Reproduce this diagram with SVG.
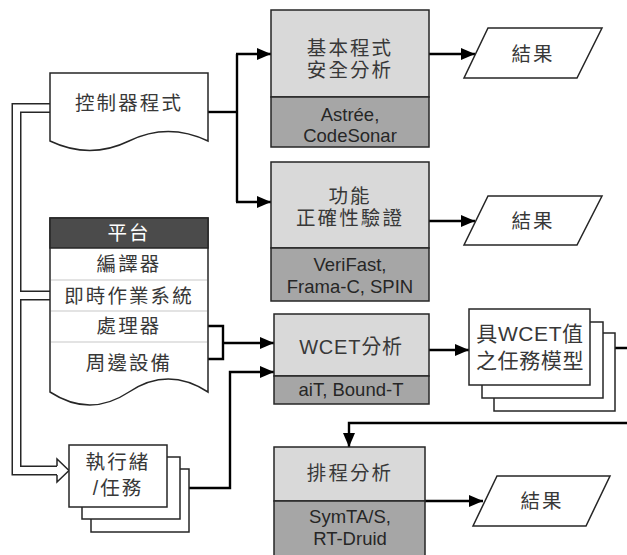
<svg xmlns="http://www.w3.org/2000/svg" xmlns:xlink="http://www.w3.org/1999/xlink" width="627" height="555" viewBox="0 0 627 555">
<style>
.box{stroke:#262626;stroke-width:1.5}
.lt{fill:#d9d9d9}
.dk{fill:#a6a6a6}
.wh{fill:#ffffff}
.cjk{font-family:"Liberation Sans","Noto Sans CJK TC",sans-serif;font-size:19.5px;letter-spacing:2.1px;fill:#383838;text-anchor:middle}
.lat{font-family:"Liberation Sans",Arial,sans-serif;font-size:18.5px;fill:#262626;text-anchor:middle}
.con{fill:none;stroke:#000;stroke-width:2.4}
.pipeO{fill:none;stroke:#262626;stroke-width:10}
.pipeI{fill:none;stroke:#fff;stroke-width:7}
.sep{stroke:#c8c8c8;stroke-width:1.2}
</style>
<defs>
<marker id="ah" viewBox="0 0 14 12" refX="14" refY="6" markerWidth="14" markerHeight="12" markerUnits="userSpaceOnUse" orient="auto"><path d="M0,0 L14,6 L0,12 z" fill="#000"/></marker>
<path id="pipeMain" d="M50,108 H16.5 V470.5 H58"/>
<path id="pipeBr" d="M16.5,295.5 H50"/>
</defs>

<g id="connectors">
<use xlink:href="#pipeMain" class="pipeO"/>
<use xlink:href="#pipeBr" class="pipeO"/>
<use xlink:href="#pipeMain" class="pipeI"/>
<use xlink:href="#pipeBr" class="pipeI"/>
<path d="M57,466 V459 L69,470.5 L57,482 V475" fill="#fff" stroke="#262626" stroke-width="1.5"/>
<path class="con" d="M208,112 H237"/>
<path class="con" d="M237,54 V202"/>
<path class="con" d="M236,54 H271" marker-end="url(#ah)"/>
<path class="con" d="M236,202 H271" marker-end="url(#ah)"/>
<path class="con" d="M429,54 H475" marker-end="url(#ah)"/>
<path class="con" d="M429,221 H475" marker-end="url(#ah)"/>
<path class="con" d="M208,326 H223 V359 H208"/>
<path class="con" d="M223,343 H274" marker-end="url(#ah)"/>
<path class="con" d="M189,488 H230 V372 H274" marker-end="url(#ah)"/>
<path class="con" d="M429,350 H469" marker-end="url(#ah)"/>
<path class="con" d="M615,348 H632 V423 H349 V447" marker-end="url(#ah)"/>
<path class="con" d="M425,501 H483" marker-end="url(#ah)"/>
</g>

<g id="control-program">
<path class="box wh" d="M50,73 H208 V141 Q168,122 129,141 T50,141 Z"/>
<text class="cjk" x="129" y="110">控制器程式</text>
</g>

<g id="platform">
<path class="box wh" d="M50,218 H208 V392 Q168,366 129,392 T50,392 Z"/>
<rect x="50" y="218" width="158" height="30" fill="#4b4b4b" stroke="#262626" stroke-width="1.5"/>
<line class="sep" x1="51" y1="280" x2="207" y2="280"/>
<line class="sep" x1="51" y1="311" x2="207" y2="311"/>
<line class="sep" x1="51" y1="342" x2="207" y2="342"/>
<text class="cjk" x="129" y="240" style="fill:#fff">平台</text>
<text class="cjk" x="129" y="271">編譯器</text>
<text class="cjk" x="129" y="303">即時作業系統</text>
<text class="cjk" x="129" y="333">處理器</text>
<text class="cjk" x="129" y="370">周邊設備</text>
</g>

<g id="threads">
<rect class="box wh" x="91" y="469" width="98" height="63"/>
<rect class="box wh" x="82" y="457" width="98" height="62"/>
<rect class="box wh" x="69" y="445" width="98" height="62"/>
<text class="cjk"><tspan x="118" y="469">執行緒</tspan><tspan x="118" y="495">/任務</tspan></text>
</g>

<g id="basic-analysis">
<rect class="box lt" x="271" y="10" width="158" height="87"/>
<rect class="box dk" x="271" y="97" width="158" height="50"/>
<text class="cjk"><tspan x="350" y="55">基本程式</tspan><tspan x="350" y="77">安全分析</tspan></text>
<text class="lat"><tspan x="350" y="121">Astrée,</tspan><tspan x="350" y="142">CodeSonar</tspan></text>
</g>

<g id="functional-verification">
<rect class="box lt" x="271" y="162" width="158" height="86"/>
<rect class="box dk" x="271" y="248" width="158" height="53"/>
<text class="cjk"><tspan x="350" y="203">功能</tspan><tspan x="350" y="225">正確性驗證</tspan></text>
<text class="lat"><tspan x="350" y="271">VeriFast,</tspan><tspan x="350" y="293">Frama-C, SPIN</tspan></text>
</g>

<g id="wcet-analysis">
<rect class="box lt" x="274" y="314" width="155" height="62"/>
<rect class="box dk" x="274" y="376" width="155" height="28"/>
<text class="cjk" x="351" y="354" style="font-size:20px;letter-spacing:0.8px">WCET分析</text>
<text class="lat" x="351" y="396">aiT, Bound-T</text>
</g>

<g id="task-model">
<rect class="box wh" x="494" y="333" width="121" height="78"/>
<rect class="box wh" x="482" y="322" width="121" height="76"/>
<rect class="box wh" x="469" y="309" width="121" height="76"/>
<text class="cjk" style="font-size:21px;letter-spacing:0.6px"><tspan x="530" y="341">具WCET值</tspan><tspan x="530" y="368">之任務模型</tspan></text>
</g>

<g id="scheduling-analysis">
<rect class="box lt" x="274" y="447" width="151" height="54"/>
<rect class="box dk" x="274" y="501" width="151" height="62"/>
<text class="cjk" x="350" y="480">排程分析</text>
<text class="lat"><tspan x="350" y="523">SymTA/S,</tspan><tspan x="350" y="545">RT-Druid</tspan></text>
</g>

<g id="result-1">
<path class="box wh" d="M488,28 H602 L577,78 H464 Z"/>
<text class="cjk" x="533" y="61">結果</text>
</g>
<g id="result-2">
<path class="box wh" d="M488,196 H602 L577,245 H464 Z"/>
<text class="cjk" x="533" y="228">結果</text>
</g>
<g id="result-3">
<path class="box wh" d="M497,476 H610 L586,526 H473 Z"/>
<text class="cjk" x="542" y="508">結果</text>
</g>
</svg>
